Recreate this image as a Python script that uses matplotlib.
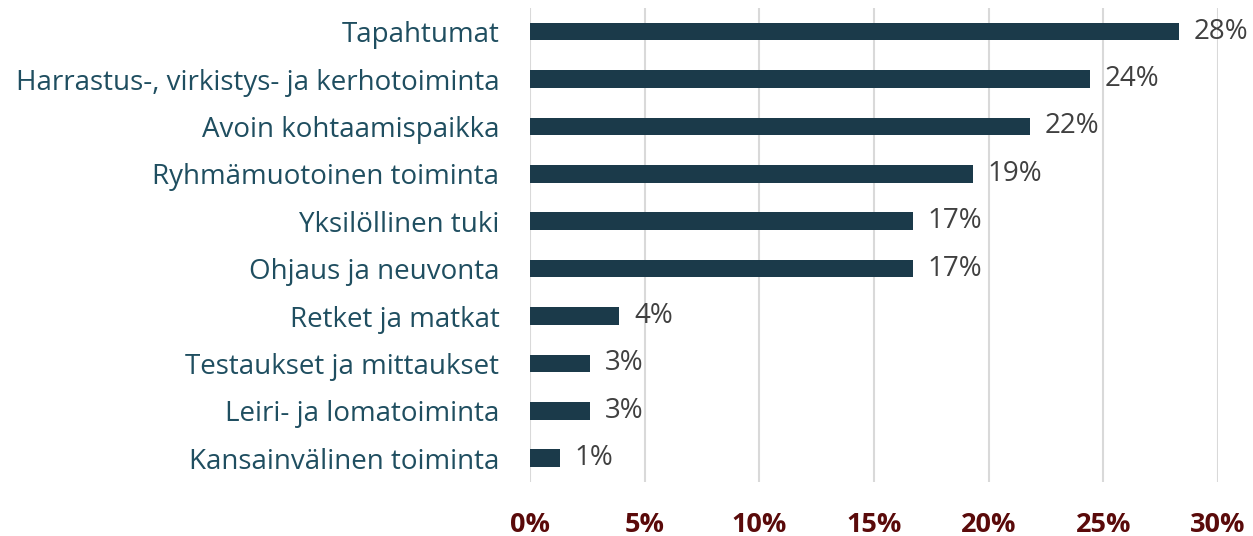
import numpy as np
import matplotlib
matplotlib.use('Agg')
from matplotlib import pyplot as plt

categories = ['Tapahtumat', 'Harrastus-, virkistys- ja kerhotoiminta',
              'Avoin kohtaamispaikka', 'Ryhmämuotoinen toiminta',
              'Yksilöllinen tuki', 'Ohjaus ja neuvonta', 'Retket ja matkat',
              'Testaukset ja mittaukset', 'Leiri- ja lomatoiminta',
              'Kansainvälinen toiminta']
values = [28.3, 24.4, 21.8, 19.3, 16.7, 16.7, 3.9, 2.6, 2.6, 1.3]
labels = ['28%', '24%', '22%', '19%', '17%', '17%', '4%', '3%', '3%', '1%']
xticks = [0, 5, 10, 15, 20, 25, 30]

plt.rcParams['font.family'] = ['Open Sans', 'DejaVu Sans']

fig = plt.figure(figsize=(12.53, 5.36), dpi=100)
ax = fig.add_axes([0.423, 0.101, 0.549, 0.884])

y = np.arange(len(categories))
ax.barh(y, values, height=0.37, color='#1b3a4a')
for yi, v, lab in zip(y, values, labels):
    ax.text(v + 0.65, yi, lab, va='center', ha='left', fontsize=20, color='#404040')

ax.set_ylim(len(categories) - 0.5, -0.5)
ax.set_xlim(0, 30)
ax.set_yticks(y)
ax.set_yticklabels(categories, fontsize=20, color='#1f4e60')
ax.set_xticks(xticks)
ax.set_xticklabels([f'{t}%' for t in xticks], fontsize=19.5, fontweight='bold', color='#5a0a0a')
ax.tick_params(axis='both', length=0)
ax.tick_params(axis='x', pad=22)
ax.tick_params(axis='y', pad=22)
ax.grid(axis='x', color='#d9d9d9', linewidth=1.5)
ax.set_axisbelow(True)
for s in ax.spines.values():
    s.set_visible(False)

fig.savefig('out.png', dpi=100)
